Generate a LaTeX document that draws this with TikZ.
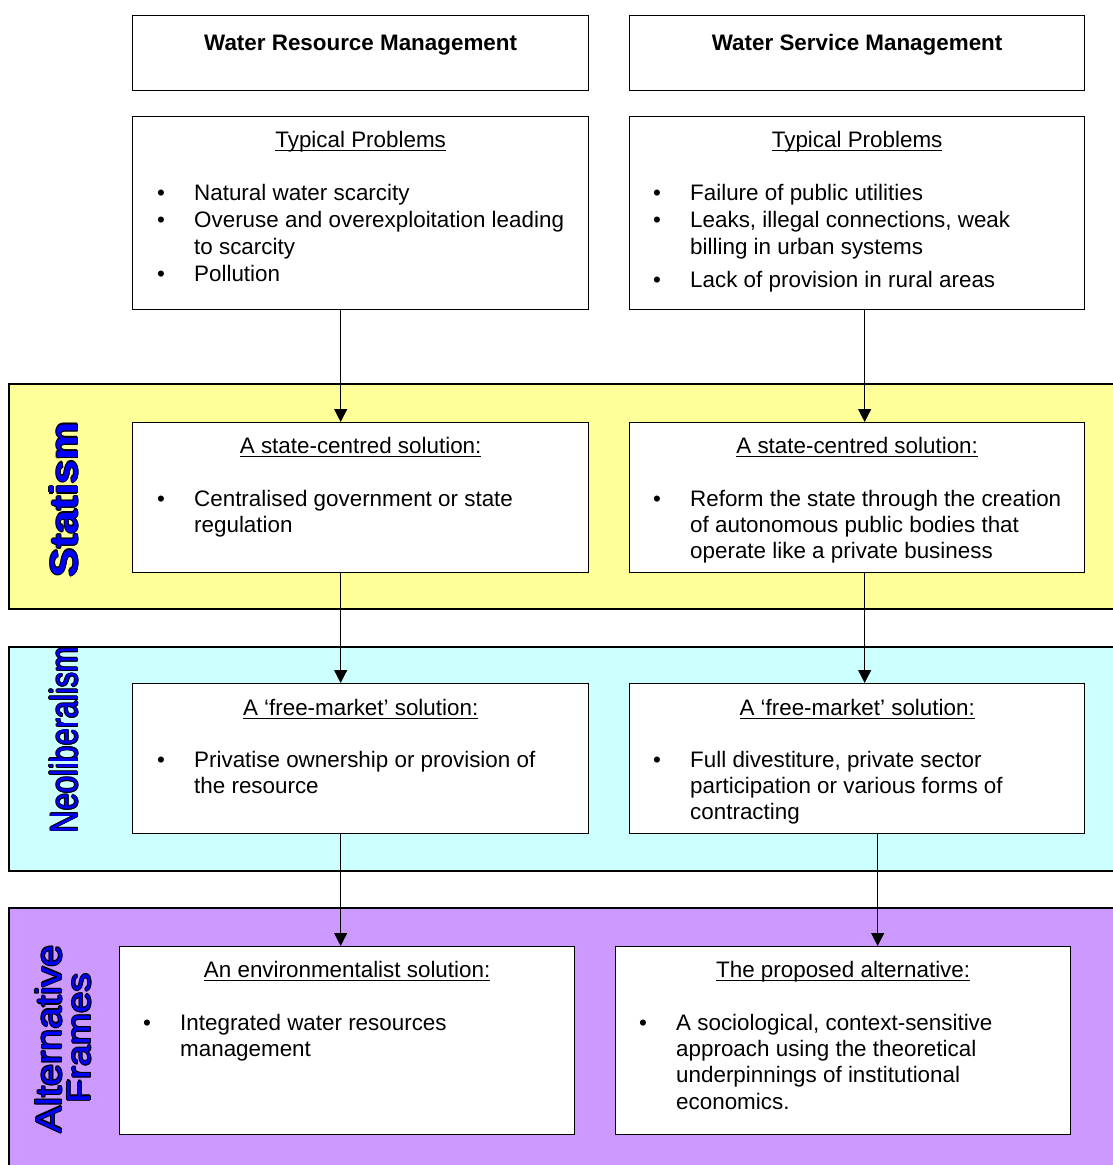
\documentclass[tikz,border=0pt]{standalone}
\usepackage{fontspec}
\setmainfont{Liberation Sans}
\usetikzlibrary{arrows.meta,calc}
\definecolor{statcol}{HTML}{FFFF99}
\definecolor{neocol}{HTML}{CCFFFF}
\definecolor{altcol}{HTML}{CC99FF}
\definecolor{lblblue}{HTML}{0000FF}
\newcommand\bodyfont{\fontsize{22.4}{26.4}\selectfont}
\newcommand\ulx[1]{\setbox0=\hbox{#1}\rlap{\rule[-4pt]{\wd0}{1.2pt}}\box0}
\newcommand\bitem[1]{\par\hangindent=37pt\hangafter=1\noindent\makebox[37pt][l]{\textbullet}#1}
\newcommand\lstbox[2]{\vtop{\hsize=#1\parindent=0pt\parskip=0pt\raggedright #2\par}}
\newcommand\oc[2]{\rlap{\kern#1\raise#2\copy2}}
\newcommand\outltext[1]{\setbox2=\hbox{#1}{\color{black}\oc{1.1pt}{0pt}\oc{-1.1pt}{0pt}\oc{0pt}{1.1pt}\oc{0pt}{-1.1pt}\oc{0.8pt}{0.8pt}\oc{-0.8pt}{0.8pt}\oc{0.8pt}{-0.8pt}\oc{-0.8pt}{-0.8pt}}{\color{lblblue}\copy2}}
\begin{document}
\begin{tikzpicture}[x=1pt,y=-1pt,
  font=\bodyfont,
  box/.style={draw=black, line width=1.3pt, fill=white, inner sep=0pt, anchor=north west},
  band/.style={draw=black, line width=1.3pt},
  conn/.style={line width=1pt, -{Triangle[length=13pt,width=13pt]}},
  ttl/.style={anchor=base, inner sep=0pt},
  lst/.style={anchor=base west, inner sep=0pt},
  side/.style={rotate=90, inner sep=0pt}
]
\useasboundingbox (0,0) rectangle (1112,1165);
\fill[white] (0,0) rectangle (1112,1165);
% bands
\draw[band, fill=statcol] (9,384) rectangle (1114,609);
\draw[band, fill=neocol] (9,647) rectangle (1114,871);
\draw[band, fill=altcol] (9,908) rectangle (1114,1170);
% side labels
\node[side] (lstat) at (64,499.5) {\resizebox{155pt}{29pt}{\fontsize{40}{48}\selectfont\bfseries\outltext{Statism}}};
\node[side] (lneo) at (64,740) {\resizebox{186pt}{29pt}{\fontsize{40}{48}\selectfont\outltext{Neoliberalism}}};
\node[side] (lalt) at (48.5,1039) {\resizebox{188pt}{27pt}{\fontsize{40}{48}\selectfont\outltext{Alternative}}};
\node[side] (lfr) at (79.5,1038) {\resizebox{130pt}{24pt}{\fontsize{40}{48}\selectfont\outltext{Frames}}};
% headers
\node[box, minimum width=456pt, minimum height=75pt] (h1) at (132,15) {};
\node[ttl, font=\bodyfont\bfseries] (h1t) at ([yshift=-35pt]h1.north) {Water Resource Management};
\node[box, minimum width=455pt, minimum height=75pt] (h2) at (629,15) {};
\node[ttl, font=\bodyfont\bfseries] (h2t) at ([yshift=-35pt]h2.north) {Water Service Management};
% problems
\node[box, minimum width=456pt, minimum height=193pt] (p1) at (132,116) {};
\node[ttl] (p1t) at ([yshift=-31pt]p1.north) {\ulx{Typical Problems}};
\node[lst, font=\fontsize{22.4}{27}\selectfont] (p1l) at ([xshift=25pt,yshift=-84pt]p1.north west)
  {\lstbox{425pt}{\bitem{Natural water scarcity}\bitem{Overuse and overexploitation leading\newline to scarcity}\bitem{Pollution}}};
\node[box, minimum width=455pt, minimum height=193pt] (p2) at (629,116) {};
\node[ttl] (p2t) at ([yshift=-31pt]p2.north) {\ulx{Typical Problems}};
\node[lst, font=\fontsize{22.4}{27}\selectfont] (p2l) at ([xshift=24pt,yshift=-84pt]p2.north west)
  {\lstbox{425pt}{\bitem{Failure of public utilities}\bitem{Leaks, illegal connections, weak\newline billing in urban systems}\par\vskip 6pt\bitem{Lack of provision in rural areas}}};
% statism
\node[box, minimum width=456pt, minimum height=150pt] (s1) at (132,422) {};
\node[ttl] (s1t) at ([yshift=-31pt]s1.north) {\ulx{A state-centred solution:}};
\node[lst] (s1l) at ([xshift=25pt,yshift=-84pt]s1.north west)
  {\lstbox{425pt}{\bitem{Centralised government or state\newline regulation}}};
\node[box, minimum width=455pt, minimum height=150pt] (s2) at (629,422) {};
\node[ttl] (s2t) at ([yshift=-31pt]s2.north) {\ulx{A state-centred solution:}};
\node[lst] (s2l) at ([xshift=24pt,yshift=-84pt]s2.north west)
  {\lstbox{425pt}{\bitem{Reform the state through the creation\newline of autonomous public bodies that\newline operate like a private business}}};
% neoliberalism
\node[box, minimum width=456pt, minimum height=150pt] (n1) at (132,683) {};
\node[ttl] (n1t) at ([yshift=-32pt]n1.north) {\ulx{A ‘free-market’ solution:}};
\node[lst] (n1l) at ([xshift=25pt,yshift=-84pt]n1.north west)
  {\lstbox{425pt}{\bitem{Privatise ownership or provision of\newline the resource}}};
\node[box, minimum width=455pt, minimum height=150pt] (n2) at (629,683) {};
\node[ttl] (n2t) at ([yshift=-32pt]n2.north) {\ulx{A ‘free-market’ solution:}};
\node[lst] (n2l) at ([xshift=24pt,yshift=-84pt]n2.north west)
  {\lstbox{425pt}{\bitem{Full divestiture, private sector\newline participation or various forms of\newline contracting}}};
% alternative frames
\node[box, minimum width=455pt, minimum height=188pt] (a1) at (119,946) {};
\node[ttl] (a1t) at ([yshift=-31pt]a1.north) {\ulx{An environmentalist solution:}};
\node[lst] (a1l) at ([xshift=24pt,yshift=-84pt]a1.north west)
  {\lstbox{425pt}{\bitem{Integrated water resources\newline management}}};
\node[box, minimum width=455pt, minimum height=188pt] (a2) at (615,946) {};
\node[ttl] (a2t) at ([yshift=-31pt]a2.north) {\ulx{The proposed alternative:}};
\node[lst] (a2l) at ([xshift=24pt,yshift=-84pt]a2.north west)
  {\lstbox{425pt}{\bitem{A sociological, context-sensitive\newline approach using the theoretical\newline underpinnings of institutional\newline economics.}}};
% connectors
\draw[conn] ([xshift=-20pt]p1.south) -- ([xshift=-20pt]s1.north);
\draw[conn] ([xshift=7.5pt]p2.south) -- ([xshift=7.5pt]s2.north);
\draw[conn] ([xshift=-20pt]s1.south) -- ([xshift=-20pt]n1.north);
\draw[conn] ([xshift=7.5pt]s2.south) -- ([xshift=7.5pt]n2.north);
\draw[conn] ([xshift=-20pt]n1.south) -- ([xshift=-6.5pt]a1.north);
\draw[conn] ([xshift=20.5pt]n2.south) -- ([xshift=34.5pt]a2.north);
\end{tikzpicture}
\end{document}
